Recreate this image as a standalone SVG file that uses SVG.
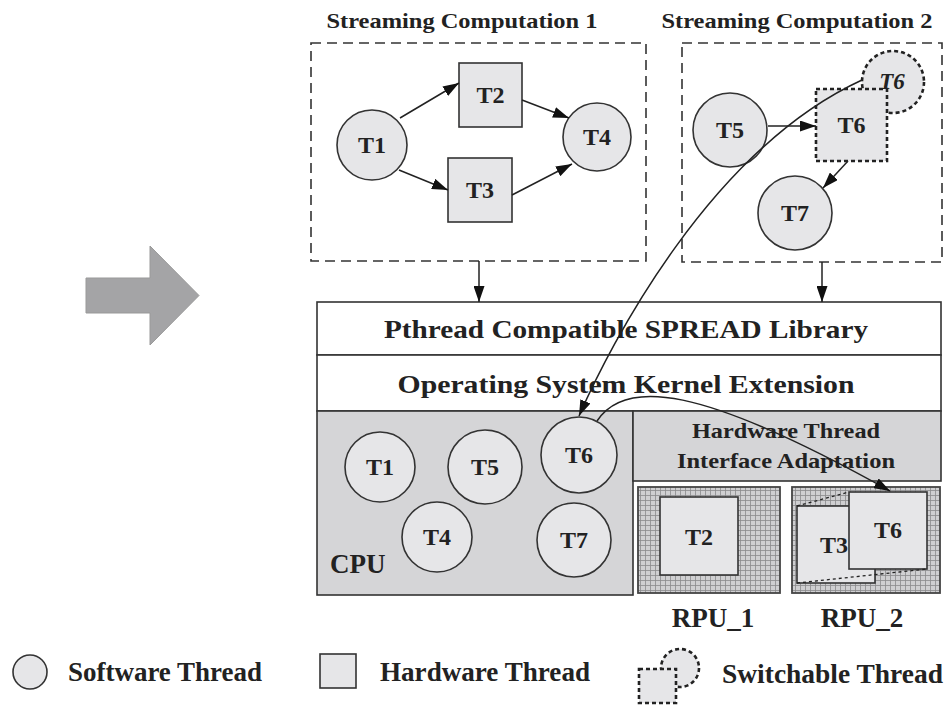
<svg xmlns="http://www.w3.org/2000/svg" width="950" height="707" viewBox="0 0 950 707">
<style>
text{font-family:"Liberation Serif","Times New Roman",serif;font-weight:bold;fill:#222;}
.lbl{font-size:24px;text-anchor:middle;}
.sw{fill:#e6e6e8;stroke:#333;stroke-width:1.6;}
.hw{fill:#e6e6e8;stroke:#333;stroke-width:1.6;}
.dash{fill:none;stroke:#333;stroke-width:1.6;stroke-dasharray:10 6;}
.sdash{fill:#e6e6e8;stroke:#222;stroke-width:2.6;stroke-dasharray:4 3;}
.conn{fill:none;stroke:#222;stroke-width:1.5;}
.band{fill:#fff;stroke:#333;stroke-width:1.6;}
.gray{fill:#d5d5d7;stroke:#333;stroke-width:1.6;}
.rpu{fill:url(#grid);stroke:#444;stroke-width:1.8;}
</style>
<defs>
<marker id="ah" viewBox="0 0 16 11" refX="16" refY="5.5" markerWidth="16" markerHeight="11" markerUnits="userSpaceOnUse" orient="auto">
<path d="M0,0 L16,5.5 L0,11 z" fill="#111"/>
</marker>
<pattern id="grid" width="5" height="5" patternUnits="userSpaceOnUse">
<rect width="5" height="5" fill="#cfcfd1"/>
<path d="M0,0.5 H5 M0.5,0 V5" stroke="#8a8a8c" stroke-width="0.8"/>
</pattern>
</defs>
<rect width="950" height="707" fill="#fff"/>

<g id="big-arrow">
<polygon points="86,278 150,278 150,246 199,295.5 150,345 150,313 86,313" fill="#a4a4a6" stroke="#999" stroke-width="1"/>
</g>

<g id="sc1">
<rect class="dash" x="311" y="43" width="335" height="218"/>
<text x="462" y="28" font-size="22" text-anchor="middle" textLength="271" lengthAdjust="spacingAndGlyphs">Streaming Computation 1</text>
</g>
<g id="sc2">
<rect class="dash" x="682" y="43" width="260" height="219"/>
<text x="797" y="28" font-size="22" text-anchor="middle" textLength="271" lengthAdjust="spacingAndGlyphs">Streaming Computation 2</text>
</g>

<g id="sc1-T1"><circle class="sw" cx="372" cy="145" r="35"/><text class="lbl" x="372" y="153">T1</text></g>
<g id="sc1-T2"><rect class="hw" x="459" y="63" width="63" height="64"/><text class="lbl" x="490.5" y="103">T2</text></g>
<g id="sc1-T3"><rect class="hw" x="448" y="158" width="64" height="64"/><text class="lbl" x="480" y="198">T3</text></g>
<g id="sc1-T4"><circle class="sw" cx="597" cy="137" r="34"/><text class="lbl" x="597" y="145">T4</text></g>

<g id="sc2-T5"><circle class="sw" cx="730" cy="130" r="37"/><text class="lbl" x="730" y="138">T5</text></g>
<g id="sc2-T6">
<circle class="sdash" cx="893" cy="82" r="31"/>
<rect class="sdash" x="816" y="89" width="71" height="72"/>
<text x="892" y="89" font-size="23" text-anchor="middle" font-style="italic" font-weight="normal">T6</text>
<text class="lbl" x="851.5" y="133">T6</text>
</g>
<g id="sc2-T7"><circle class="sw" cx="795" cy="213" r="37"/><text class="lbl" x="795" y="221">T7</text></g>

<g id="pthread">
<rect class="band" x="317" y="302" width="624" height="53"/>
<text x="626" y="338" font-size="25" text-anchor="middle" textLength="484" lengthAdjust="spacingAndGlyphs">Pthread Compatible SPREAD Library</text>
</g>
<g id="os">
<rect class="band" x="317" y="355" width="624" height="56"/>
<text x="626" y="393" font-size="25" text-anchor="middle" textLength="457" lengthAdjust="spacingAndGlyphs">Operating System Kernel Extension</text>
</g>

<g id="cpu">
<rect class="gray" x="317" y="411" width="316" height="184"/>
<text x="330" y="573" font-size="27">CPU</text>
</g>
<g id="cpu-T1"><circle class="sw" cx="380" cy="467" r="35"/><text class="lbl" x="380" y="475">T1</text></g>
<g id="cpu-T5"><circle class="sw" cx="485" cy="467" r="37"/><text class="lbl" x="485" y="475">T5</text></g>
<g id="cpu-T6"><circle class="sw" cx="579" cy="455" r="38"/><text class="lbl" x="579" y="463">T6</text></g>
<g id="cpu-T4"><circle class="sw" cx="437" cy="537" r="35"/><text class="lbl" x="437" y="545">T4</text></g>
<g id="cpu-T7"><circle class="sw" cx="574" cy="540" r="37"/><text class="lbl" x="574" y="548">T7</text></g>

<g id="hwif">
<rect class="gray" x="633" y="411" width="308" height="70"/>
<text x="786" y="438" font-size="21" text-anchor="middle" textLength="188" lengthAdjust="spacingAndGlyphs">Hardware Thread</text>
<text x="786" y="468" font-size="21" text-anchor="middle" textLength="218" lengthAdjust="spacingAndGlyphs">Interface Adaptation</text>
</g>

<g id="rpu1">
<rect class="rpu" x="638" y="487" width="142" height="106"/>
<rect class="hw" x="660" y="497" width="78" height="78"/>
<text class="lbl" x="699" y="545">T2</text>
<text x="713" y="627" font-size="27" text-anchor="middle">RPU_1</text>
</g>
<g id="rpu2">
<rect class="rpu" x="792" y="487" width="148" height="106"/>
<rect class="hw" x="797" y="506" width="78" height="77"/>
<text class="lbl" x="834" y="553">T3</text>
<rect class="hw" x="849" y="492" width="78" height="77"/>
<text class="lbl" x="888" y="538">T6</text>
<path d="M797,506 L849,492 M797,583 L927,569" fill="none" stroke="#222" stroke-width="1.3" stroke-dasharray="3 3"/>
<text x="862" y="627" font-size="27" text-anchor="middle">RPU_2</text>
</g>

<g id="connectors">
<line class="conn" x1="400" y1="118" x2="459" y2="83" marker-end="url(#ah)"/>
<line class="conn" x1="399" y1="170" x2="448" y2="190" marker-end="url(#ah)"/>
<line class="conn" x1="522" y1="100" x2="569" y2="118" marker-end="url(#ah)"/>
<line class="conn" x1="512" y1="195" x2="572" y2="164" marker-end="url(#ah)"/>
<line class="conn" x1="768" y1="126" x2="816" y2="126" marker-end="url(#ah)"/>
<line class="conn" x1="848" y1="161" x2="823" y2="188" marker-end="url(#ah)"/>
<line class="conn" x1="479" y1="261" x2="479" y2="302" marker-end="url(#ah)"/>
<line class="conn" x1="822" y1="262" x2="822" y2="302" marker-end="url(#ah)"/>
<path class="conn" d="M862,80 C710,150 610,345 579,416" marker-end="url(#ah)"/>
<path class="conn" d="M597,421 C625,378 700,385 890,491" marker-end="url(#ah)"/>
</g>

<g id="legend">
<circle class="sw" cx="30" cy="672" r="17"/>
<text x="68" y="681" font-size="27" textLength="194" lengthAdjust="spacingAndGlyphs">Software Thread</text>
<rect class="hw" x="320" y="654" width="36" height="34"/>
<text x="380" y="681" font-size="27" textLength="210" lengthAdjust="spacingAndGlyphs">Hardware Thread</text>
<circle class="sdash" cx="680" cy="668" r="19"/>
<rect class="sdash" x="639" y="669" width="37" height="34"/>
<text x="722" y="683" font-size="27" textLength="221" lengthAdjust="spacingAndGlyphs">Switchable  Thread</text>
</g>
</svg>
